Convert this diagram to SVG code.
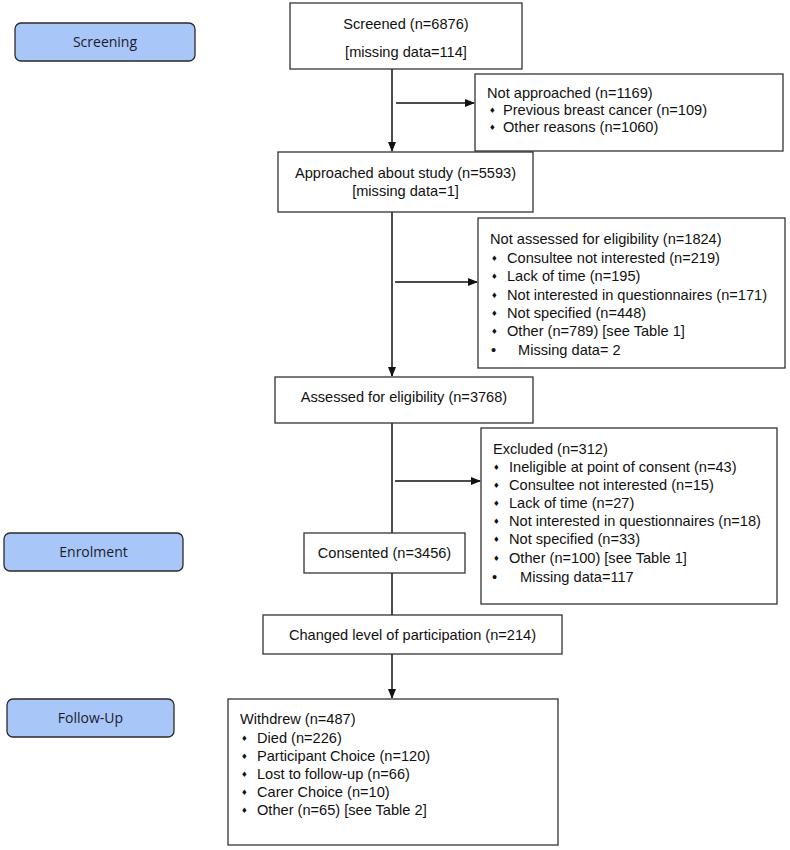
<svg xmlns="http://www.w3.org/2000/svg" width="790" height="850" viewBox="0 0 790 850">
<style>
.box{fill:#fff;stroke:#333;stroke-width:1.3}
.pill{fill:#a9c6f8;stroke:#2a2a2a;stroke-width:1.3}
.t{font-family:"Liberation Sans",Arial,sans-serif;font-size:14.6px;fill:#111}
.c{text-anchor:middle}
.p{font-family:"Open Sans","Noto Sans",sans-serif;font-size:14px;fill:#1b1b2b;text-anchor:middle}
.d{font-family:"DejaVu Sans",sans-serif;font-size:7.5px;fill:#111}
.ln{stroke:#111;stroke-width:1.5;fill:none}
</style>
<defs>
<marker id="ah" markerWidth="10" markerHeight="10" refX="9" refY="5" orient="auto" markerUnits="userSpaceOnUse">
<path d="M0,1 L10,5 L0,9 Z" fill="#111"/>
</marker>
</defs>
<g id="connectors">
<line class="ln" x1="392" y1="69" x2="392" y2="151" marker-end="url(#ah)"/>
<line class="ln" x1="396" y1="103" x2="474" y2="103" marker-end="url(#ah)"/>
<line class="ln" x1="392" y1="212" x2="392" y2="376" marker-end="url(#ah)"/>
<line class="ln" x1="395" y1="282" x2="477" y2="282" marker-end="url(#ah)"/>
<line class="ln" x1="392" y1="423" x2="392" y2="533"/>
<line class="ln" x1="395" y1="481" x2="480" y2="481" marker-end="url(#ah)"/>
<line class="ln" x1="392" y1="573" x2="392" y2="615"/>
<line class="ln" x1="392" y1="654" x2="392" y2="698" marker-end="url(#ah)"/>
</g>
<g id="screening-label">
<rect class="pill" x="15" y="23" width="180" height="38" rx="6"/>
<text class="p" x="105" y="47">Screening</text>
</g>
<g id="enrolment-label">
<rect class="pill" x="4" y="533" width="179" height="38" rx="6"/>
<text class="p" x="93.5" y="557">Enrolment</text>
</g>
<g id="followup-label">
<rect class="pill" x="7" y="699" width="167" height="38" rx="6"/>
<text class="p" x="90.5" y="723">Follow-Up</text>
</g>
<g id="screened">
<rect class="box" x="290" y="3" width="232" height="66"/>
<text class="t c" x="406" y="29">Screened (n=6876)</text>
<text class="t c" x="406" y="57">[missing data=114]</text>
</g>
<g id="not-approached">
<rect class="box" x="475" y="74" width="308" height="77"/>
<text class="t" x="487" y="98">Not approached (n=1169)</text>
<text class="d" x="489" y="113">♦</text>
<text class="t" x="503" y="115">Previous breast cancer (n=109)</text>
<text class="d" x="489" y="129.5">♦</text>
<text class="t" x="503" y="131.5">Other reasons (n=1060)</text>
</g>
<g id="approached">
<rect class="box" x="278" y="152" width="255" height="60"/>
<text class="t c" x="405.5" y="177.5">Approached about study (n=5593)</text>
<text class="t c" x="405.5" y="195.5">[missing data=1]</text>
</g>
<g id="not-assessed">
<rect class="box" x="478" y="218" width="307" height="150"/>
<text class="t" x="490" y="244">Not assessed for eligibility (n=1824)</text>
<text class="d" x="491" y="260.5">♦</text>
<text class="t" x="507" y="262.5">Consultee not interested (n=219)</text>
<text class="d" x="491" y="279">♦</text>
<text class="t" x="507" y="281">Lack of time (n=195)</text>
<text class="d" x="491" y="297.5">♦</text>
<text class="t" x="507" y="299.5">Not interested in questionnaires (n=171)</text>
<text class="d" x="491" y="315.5">♦</text>
<text class="t" x="507" y="317.5">Not specified (n=448)</text>
<text class="d" x="491" y="334">♦</text>
<text class="t" x="507" y="336">Other (n=789) [see Table 1]</text>
<text class="t" x="491" y="354.5">•</text>
<text class="t" x="518" y="354.5">Missing data= 2</text>
</g>
<g id="assessed">
<rect class="box" x="275" y="377" width="258" height="46"/>
<text class="t c" x="404" y="402">Assessed for eligibility (n=3768)</text>
</g>
<g id="excluded">
<rect class="box" x="481" y="428" width="296" height="176"/>
<text class="t" x="493" y="454">Excluded (n=312)</text>
<text class="d" x="493" y="470">♦</text>
<text class="t" x="509" y="472">Ineligible at point of consent (n=43)</text>
<text class="d" x="493" y="488">♦</text>
<text class="t" x="509" y="490">Consultee not interested (n=15)</text>
<text class="d" x="493" y="506">♦</text>
<text class="t" x="509" y="508">Lack of time (n=27)</text>
<text class="d" x="493" y="524">♦</text>
<text class="t" x="509" y="526">Not interested in questionnaires (n=18)</text>
<text class="d" x="493" y="542">♦</text>
<text class="t" x="509" y="544">Not specified (n=33)</text>
<text class="d" x="493" y="560.5">♦</text>
<text class="t" x="509" y="562.5">Other (n=100) [see Table 1]</text>
<text class="t" x="492" y="582">•</text>
<text class="t" x="520" y="582">Missing data=117</text>
</g>
<g id="consented">
<rect class="box" x="304" y="533" width="161" height="40"/>
<text class="t c" x="384.5" y="558">Consented (n=3456)</text>
</g>
<g id="changed">
<rect class="box" x="263" y="615" width="299" height="39"/>
<text class="t c" x="412.5" y="640">Changed level of participation (n=214)</text>
</g>
<g id="withdrew">
<rect class="box" x="228" y="699" width="330" height="146"/>
<text class="t" x="240" y="724">Withdrew (n=487)</text>
<text class="d" x="241" y="740.5">♦</text>
<text class="t" x="257" y="742.5">Died (n=226)</text>
<text class="d" x="241" y="758.5">♦</text>
<text class="t" x="257" y="760.5">Participant Choice (n=120)</text>
<text class="d" x="241" y="776.5">♦</text>
<text class="t" x="257" y="778.5">Lost to follow-up (n=66)</text>
<text class="d" x="241" y="794.5">♦</text>
<text class="t" x="257" y="796.5">Carer Choice (n=10)</text>
<text class="d" x="241" y="813">♦</text>
<text class="t" x="257" y="815">Other (n=65) [see Table 2]</text>
</g>
</svg>
